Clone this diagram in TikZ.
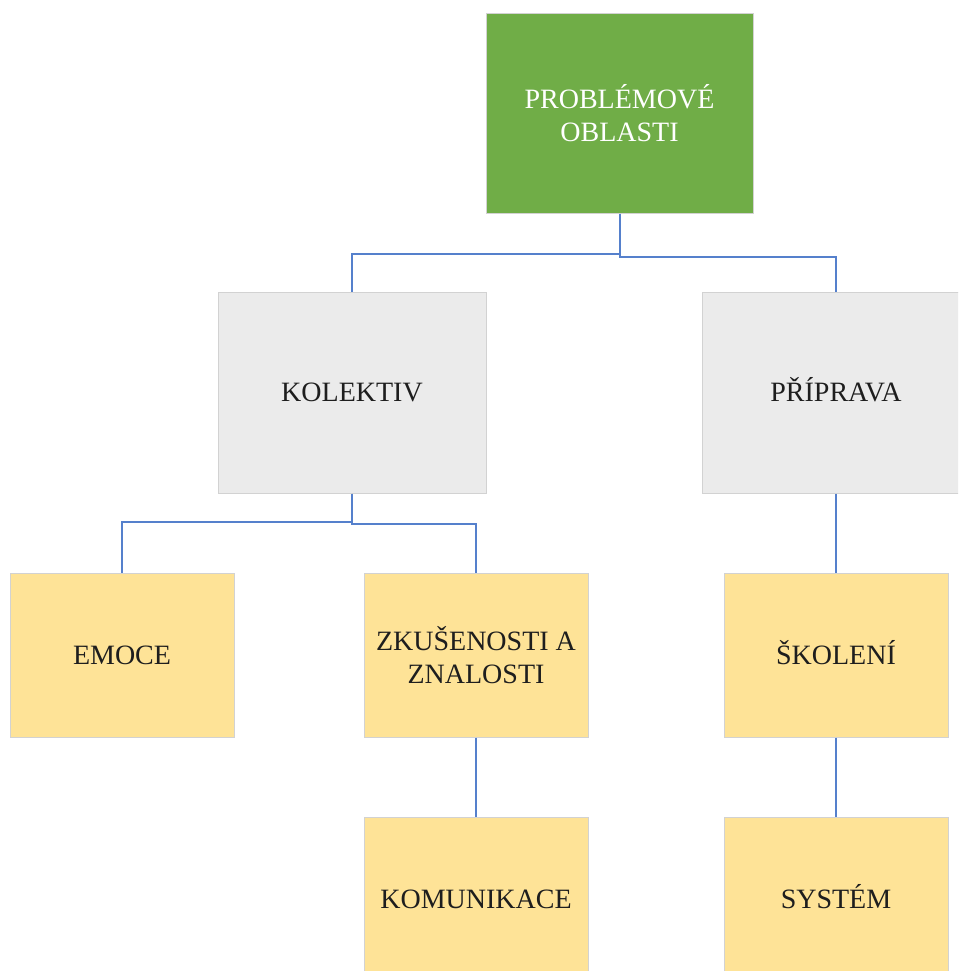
\documentclass[tikz,border=0pt]{standalone}
\usepackage{fontspec}
\setmainfont{Liberation Serif}
\usetikzlibrary{positioning}
\definecolor{rootgreen}{HTML}{70AD47}
\definecolor{areagrey}{HTML}{EBEBEB}
\definecolor{itemyellow}{HTML}{FEE397}
\definecolor{boxline}{HTML}{D2D2D2}
\definecolor{linkblue}{HTML}{5580CC}
\definecolor{textdark}{HTML}{1E1E1E}
\begin{document}
\begin{tikzpicture}[x=1pt, y=1pt,
      box/.style={rectangle, draw=boxline, line width=1pt, inner sep=0pt,
          align=center, font=\fontsize{28}{33}\selectfont},
      oneline/.style={text height=18.5pt, text depth=0pt},
      rootbox/.style={box, fill=rootgreen, text=white,
          minimum width=267pt, minimum height=199pt},
      areabox/.style={box, oneline, fill=areagrey, text=textdark,
          minimum width=268pt, minimum height=201pt},
      itembox/.style={box, fill=itemyellow, text=textdark,
          minimum width=224pt, minimum height=164pt},
      link/.style={draw=linkblue, line width=2pt}]
    \clip (0,0) rectangle (958,-971);
    \node[rootbox] (root) at (619.5,-113.5) {PROBLÉMOVÉ\\OBLASTI};
    \node[areabox] (kolektiv) at (352,-392.5) {KOLEKTIV};
    \node[areabox] (priprava) at (836,-392.5) {PŘÍPRAVA};
    \node[itembox, oneline, below=79pt of kolektiv, xshift=-230pt] (emoce) {EMOCE};
    \node[itembox, below=79pt of kolektiv, xshift=124pt] (zkusenosti)
      {ZKUŠENOSTI A\\ZNALOSTI};
    \node[itembox, oneline, below=79pt of priprava] (skoleni) {ŠKOLENÍ};
    \node[itembox, oneline, below=79pt of zkusenosti] (komunikace) {KOMUNIKACE};
    \node[itembox, oneline, below=79pt of skoleni] (system) {SYSTÉM};
    \draw[link] (root.south) -- ++(0,-40) -| (kolektiv.north);
    \draw[link] (root.south) -- ++(0,-43) -| (priprava.north);
    \draw[link] (kolektiv.south) -- ++(0,-28) -| (emoce.north);
    \draw[link] (kolektiv.south) -- ++(0,-30) -| (zkusenosti.north);
    \draw[link] (priprava.south) -- (skoleni.north);
    \draw[link] (zkusenosti.south) -- (komunikace.north);
    \draw[link] (skoleni.south) -- (system.north);
  \end{tikzpicture}
\end{document}
